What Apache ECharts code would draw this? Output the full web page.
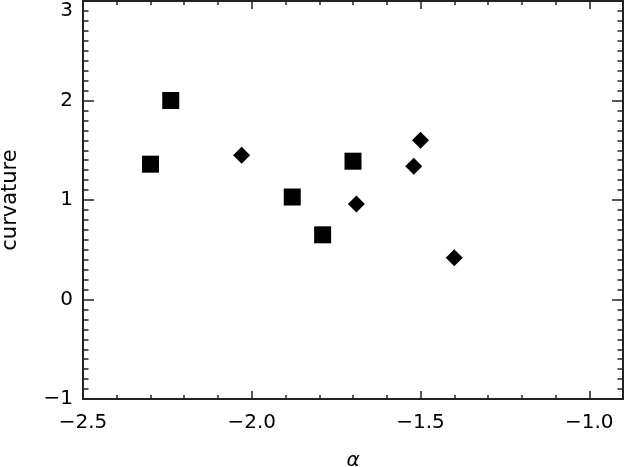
<!DOCTYPE html>
<html>
<head>
<meta charset="utf-8">
<script src="https://cdn.jsdelivr.net/npm/echarts@6/dist/echarts.min.js"></script>
<style>html,body{margin:0;padding:0;background:#fff;}#c{width:625px;height:467px;}</style>
</head>
<body>
<div id="c"></div>
<script>
const squareX = [-2.24, -2.30, -1.70, -1.88, -1.79];
const squareY = [2.00, 1.36, 1.39, 1.03, 0.65];
const diamondX = [-2.03, -1.69, -1.50, -1.52, -1.40];
const diamondY = [1.45, 0.96, 1.60, 1.34, 0.42];
const xTickLabels = [-2.5, -2.0, -1.5, -1.0];
const yTickLabels = [-1, 0, 1, 2, 3];

const FONT = 'DejaVu Sans';
const AX = '#222';
const chart = echarts.init(document.getElementById('c'));
function fmtX(v) {
  const hit = xTickLabels.find(t => Math.abs(t - v) < 1e-6);
  if (hit === undefined) return '';
  return (hit < 0 ? '\u2212' : '') + Math.abs(hit).toFixed(1);
}
function fmtY(v) {
  const hit = yTickLabels.find(t => Math.abs(t - v) < 1e-6);
  if (hit === undefined) return '';
  const s = (hit < 0 ? '\u2212' : '') + Math.abs(hit);
  if (hit === yTickLabels[yTickLabels.length - 1]) return '{top|' + s + '}';
  return s;
}
const xBase = {type: 'value', min: -2.5, max: -0.9, splitLine: {show: false}};
const yBase = {type: 'value', min: -1, max: 3, interval: 1, splitLine: {show: false}};
chart.setOption({
  animation: false,
  backgroundColor: '#fff',
  grid: {left: 83, right: 2, top: 1, bottom: 68, containLabel: false, outerBoundsMode: 'none'},
  xAxis: [
    Object.assign({}, xBase, {position: 'bottom', interval: 0.5,
      name: '\u03b1', nameLocation: 'middle', nameGap: 52,
      nameTextStyle: {fontFamily: FONT, fontSize: 20, color: '#000', fontStyle: 'italic'},
      axisLine: {show: true, onZero: false, lineStyle: {color: AX, width: 2}},
      axisTick: {show: true, inside: true, length: 8, lineStyle: {color: AX, width: 1.5}},
      axisLabel: {show: true, margin: 14, fontFamily: FONT, fontSize: 20, color: '#000', formatter: fmtX,
        showMaxLabel: false}
    }),
    Object.assign({}, xBase, {position: 'bottom', interval: 0.1,
      axisLine: {show: false, onZero: false},
      axisTick: {show: true, inside: true, length: 4, lineStyle: {color: AX, width: 1.5}},
      axisLabel: {show: false}
    }),
    Object.assign({}, xBase, {position: 'top', interval: 0.5,
      axisLine: {show: true, onZero: false, lineStyle: {color: AX, width: 2}},
      axisTick: {show: true, inside: true, length: 8, lineStyle: {color: AX, width: 1.5}},
      axisLabel: {show: false}
    }),
    Object.assign({}, xBase, {position: 'top', interval: 0.1,
      axisLine: {show: false, onZero: false},
      axisTick: {show: true, inside: true, length: 4, lineStyle: {color: AX, width: 1.5}},
      axisLabel: {show: false}
    })
  ],
  yAxis: [
    Object.assign({}, yBase, {position: 'left',
      name: 'curvature', nameLocation: 'middle', nameGap: 62, nameRotate: 90,
      nameTextStyle: {fontFamily: FONT, fontSize: 21, color: '#000'},
      axisLine: {show: true, onZero: false, lineStyle: {color: AX, width: 2}},
      axisTick: {show: true, inside: true, length: 11, lineStyle: {color: AX, width: 1.5}},
      minorTick: {show: true, splitNumber: 10, length: 5.5, lineStyle: {color: AX, width: 1.5}},
      axisLabel: {show: true, margin: 10, fontFamily: FONT, fontSize: 20, color: '#000', formatter: fmtY,
        rich: {top: {fontFamily: FONT, fontSize: 20, color: '#000', padding: [19, 0, 0, 0]}}}
    }),
    Object.assign({}, yBase, {position: 'right',
      axisLine: {show: true, onZero: false, lineStyle: {color: AX, width: 2}},
      axisTick: {show: true, inside: true, length: 11, lineStyle: {color: AX, width: 1.5}},
      minorTick: {show: true, splitNumber: 10, length: 5.5, lineStyle: {color: AX, width: 1.5}},
      axisLabel: {show: false}
    })
  ],
  series: [
    {type: 'scatter', xAxisIndex: 0, yAxisIndex: 0, symbol: 'rect', symbolSize: 17,
     itemStyle: {color: '#000', opacity: 1}, data: squareX.map((x, i) => [x, squareY[i]])},
    {type: 'scatter', xAxisIndex: 0, yAxisIndex: 0, symbol: 'diamond', symbolSize: 17,
     itemStyle: {color: '#000', opacity: 1}, data: diamondX.map((x, i) => [x, diamondY[i]])}
  ]
});
</script>
</body>
</html>
